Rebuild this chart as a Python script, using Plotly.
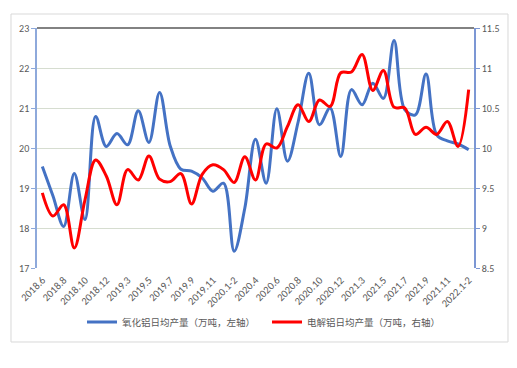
import plotly.graph_objects as go

categories = [
    "2018.6", "2018.7", "2018.8", "2018.9", "2018.10", "2018.11", "2018.12",
    "2019.1-2", "2019.3", "2019.4", "2019.5", "2019.6", "2019.7", "2019.8", "2019.9",
    "2019.10", "2019.11", "2019.12",
    "2020.1-2", "2020.3", "2020.4", "2020.5", "2020.6", "2020.7", "2020.8", "2020.9",
    "2020.10", "2020.11", "2020.12",
    "2021.1-2", "2021.3", "2021.4", "2021.5", "2021.6", "2021.7", "2021.8", "2021.9",
    "2021.10", "2021.11", "2021.12",
    "2022.1-2",
]

alumina = [
    19.54, 18.8, 18.04, 19.36, 18.21, 20.79, 20.04, 20.36, 20.08, 20.93,
    20.14, 21.39, 20.05, 19.47, 19.42, 19.25, 18.92, 19.12, 17.42, 18.5,
    20.22, 19.12, 20.98, 19.67, 20.65, 21.87, 20.58, 21.0, 19.79, 21.46,
    21.08, 21.62, 21.24, 22.69, 20.96, 20.83, 21.85, 20.33, 20.18, 20.1,
    19.96,
]

aluminium = [
    9.44, 9.15, 9.29, 8.75, 9.35, 9.85, 9.65, 9.29, 9.73, 9.6,
    9.9, 9.61, 9.58, 9.68, 9.3, 9.67, 9.79, 9.73, 9.57, 9.89,
    9.6, 10.05, 10.0, 10.27, 10.54, 10.33, 10.6, 10.52, 10.94, 10.95,
    11.17, 10.72, 10.97, 10.51, 10.5, 10.17, 10.26, 10.17, 10.33, 10.02,
    10.73,
]

left_ticks = [17, 18, 19, 20, 21, 22, 23]
right_ticks = [8.5, 9, 9.5, 10, 10.5, 11, 11.5]

name_left = "氧化铝日均产量（万吨，左轴）"
name_right = "电解铝日均产量（万吨，右轴）"

FONT = "Calibri, Carlito, 'Liberation Sans', 'Noto Sans CJK SC', sans-serif"
CJK = "'Noto Sans CJK SC', sans-serif"
GRAY = "#595959"

fig = go.Figure()
fig.add_trace(go.Scatter(
    x=categories, y=alumina, name=name_left, mode="lines",
    line=dict(color="#4472C4", width=3, shape="spline", smoothing=1.0),
    yaxis="y",
))
fig.add_trace(go.Scatter(
    x=categories, y=aluminium, name=name_right, mode="lines",
    line=dict(color="#FF0000", width=3, shape="spline", smoothing=1.0),
    yaxis="y2",
))

fig.update_layout(
    width=517, height=368,
    margin=dict(l=37, r=43, t=28, b=100, pad=0),
    paper_bgcolor="white", plot_bgcolor="white",
    font=dict(family=FONT, size=10, color=GRAY),
    showlegend=True,
    legend=dict(
        orientation="h", x=0.103, xanchor="left", y=-0.225, yanchor="middle",
        font=dict(family=CJK, size=9.5, color=GRAY),
        entrywidth=140, entrywidthmode="pixels",
        bgcolor="rgba(0,0,0,0)", itemclick=False,
    ),
    xaxis=dict(
        type="category", range=[-0.5, len(categories) - 0.5],
        tickmode="array", tickvals=categories[::2], ticktext=categories[::2],
        tickangle=-45, showgrid=False, zeroline=False, showline=False,
        ticks="", ticklabelstandoff=3,
        tickfont=dict(family=FONT, size=10.5, color=GRAY),
    ),
    yaxis=dict(
        range=[17, 23], tickvals=left_ticks, showgrid=True, gridcolor="#D6DDD0",
        gridwidth=1, zeroline=False, showline=True, linecolor="#8EA9DB", linewidth=1.5,
        ticks="outside", ticklen=4, tickcolor="#8EA9DB",
        tickfont=dict(family=FONT, size=10, color=GRAY),
    ),
    yaxis2=dict(
        range=[8.5, 11.5], tickvals=right_ticks, overlaying="y", side="right",
        showgrid=False, zeroline=False, showline=True, linecolor="#7C97D4", linewidth=1.5,
        ticks="outside", ticklen=4, tickcolor="#7C97D4",
        tickfont=dict(family=FONT, size=10, color=GRAY),
    ),
    shapes=[
        dict(type="line", xref="paper", yref="paper", x0=0, x1=1, y0=1, y1=1,
             line=dict(color="#595959", width=1.5), layer="above"),
        dict(type="rect", xref="paper", yref="paper",
             x0=-0.0595, x1=1.0778, y0=-0.3083, y1=1.0583,
             line=dict(color="#D9D9D9", width=1), layer="below"),
    ],
)

fig.write_html(
    "out.html",
    config={"displayModeBar": False},
    post_script="document.body.style.margin='0px';document.body.style.overflow='hidden';",
)
